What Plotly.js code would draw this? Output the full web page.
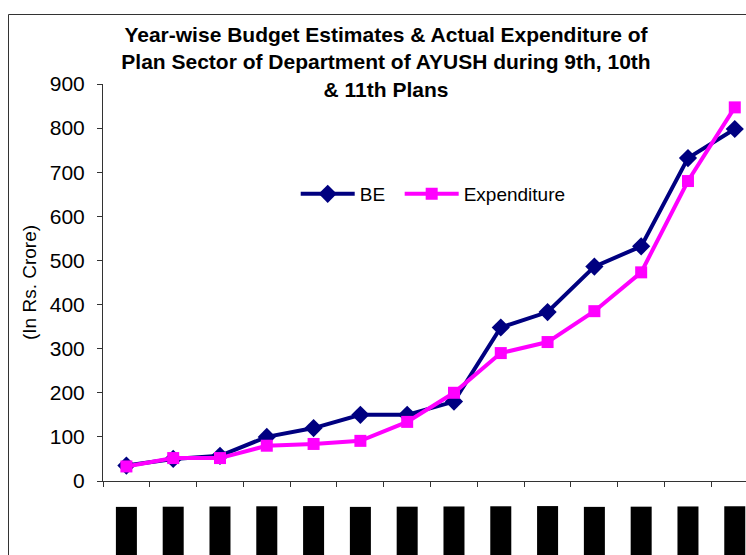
<!DOCTYPE html>
<html>
<head>
<meta charset="utf-8">
<script src="https://cdn.plot.ly/plotly-3.0.1.min.js"></script>
<style>
  html, body { margin: 0; padding: 0; overflow: hidden; background: #fff; }
  #chart { width: 746px; height: 555px; }
</style>
</head>
<body>
<div id="chart"></div>
<script>
// Categories (financial years of the 9th, 10th and 11th Plans)
const years = ['1997-98','1998-99','1999-00','2000-01','2001-02','2002-03','2003-04',
               '2004-05','2005-06','2006-07','2007-08','2008-09','2009-10','2010-11'];
// Budget Estimates (Rs. Crore)
const beValues = [35, 50, 57, 100, 120, 150, 150, 180, 348, 383, 486, 532, 732, 798];
// Actual Expenditure (Rs. Crore)
const expValues = [33, 52, 52, 80, 84, 91, 134, 200, 290, 315, 385, 473, 680, 847];
// Y-axis ticks
const yTicks = [0, 100, 200, 300, 400, 500, 600, 700, 800, 900];

const FONT = 'Liberation Sans, Arial, Helvetica, sans-serif';

const traces = [
  {
    x: years, y: beValues, name: 'BE', type: 'scatter', mode: 'lines+markers',
    line: { color: '#000080', width: 4 },
    marker: { symbol: 'diamond', size: 14, color: '#000080' },
    legend: 'legend'
  },
  {
    x: years, y: expValues, name: 'Expenditure', type: 'scatter', mode: 'lines+markers',
    line: { color: '#FF00FF', width: 4 },
    marker: { symbol: 'square', size: 12, color: '#FF00FF' },
    legend: 'legend2'
  }
];

// Category labels below the axis, rendered (as in the reference) in solid black boxes
const labelAnnotations = years.map(y => ({
  x: y, xref: 'x', y: -25 / 397, yref: 'paper',
  text: y, textangle: -90, showarrow: false,
  xanchor: 'center', yanchor: 'top',
  font: { family: FONT, size: 11, color: '#000' },
  bgcolor: '#000', borderpad: 4
}));

const legendCommon = {
  orientation: 'h',
  xanchor: 'left',
  y: 0.723, yanchor: 'middle',
  bgcolor: 'rgba(0,0,0,0)', borderwidth: 0,
  font: { family: FONT, size: 19, color: '#000' },
  itemwidth: 54
};

const layout = {
  width: 746, height: 555,
  margin: { l: 103, r: 0, t: 84, b: 74, pad: 0 },
  paper_bgcolor: '#fff', plot_bgcolor: '#fff',
  font: { family: FONT, color: '#000' },
  title: {
    text: 'Year-wise Budget Estimates & Actual Expenditure of<br>Plan Sector of Department of AYUSH during 9th, 10th<br>& 11th Plans',
    font: { family: FONT, size: 21, color: '#000', weight: 'bold' },
    xref: 'container', yref: 'container',
    x: 386 / 746, xanchor: 'center',
    y: 1 - 42 / 555, yanchor: 'top'
  },
  xaxis: {
    type: 'category',
    range: [-0.5, 13.24],
    showticklabels: false,
    ticks: 'outside', ticklen: 5, tickcolor: '#333', tickwidth: 1,
    tickson: 'boundaries',
    showline: true, linecolor: '#333', linewidth: 1,
    showgrid: false, zeroline: false, fixedrange: true
  },
  yaxis: {
    range: [0, 900],
    tickvals: yTicks,
    ticks: 'outside', ticklen: 5, tickcolor: '#333', tickwidth: 1,
    ticklabelstandoff: 8,
    tickfont: { family: FONT, size: 21, color: '#000' },
    showline: true, linecolor: '#333', linewidth: 1,
    showgrid: false, zeroline: false,
    title: { text: '(In Rs. Crore)', font: { family: FONT, size: 19, color: '#000' }, standoff: 8 }
  },
  showlegend: true,
  legend: Object.assign({}, legendCommon, { x: 0.2997 }),
  legend2: Object.assign({}, legendCommon, { x: 0.4614 }),
  annotations: labelAnnotations,
  shapes: [
    // Chart-area frame (top and left edges, the rest is cropped in the reference)
    { type: 'line', xref: 'paper', yref: 'paper',
      x0: (8.5 - 103) / 643, x1: 1.2, y0: (481 - 14.5) / 397, y1: (481 - 14.5) / 397,
      line: { color: '#333', width: 1 } },
    { type: 'line', xref: 'paper', yref: 'paper',
      x0: (8.5 - 103) / 643, x1: (8.5 - 103) / 643, y0: -0.3, y1: (481 - 14.5) / 397,
      line: { color: '#333', width: 1 } }
  ]
};

Plotly.newPlot('chart', traces, layout, { displayModeBar: false, staticPlot: true });
</script>
</body>
</html>
